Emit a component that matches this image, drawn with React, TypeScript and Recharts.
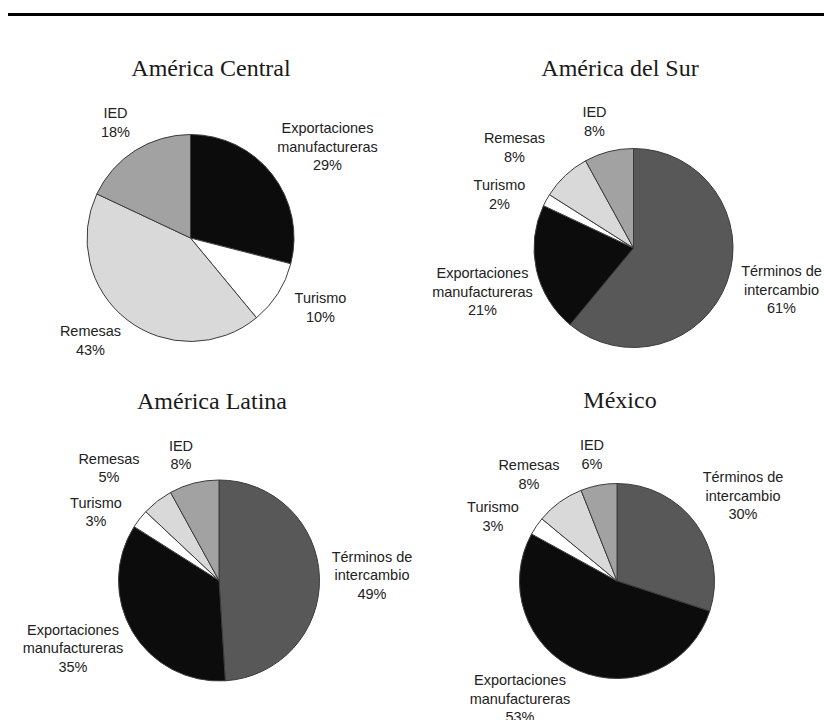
import { Cell, Pie, PieChart } from "recharts"

// categories in clockwise order starting at 12 o'clock
const centralCats = ["Exportaciones\nmanufactureras", "Turismo", "Remesas", "IED"]
const centralValues = [29, 10, 43, 18]

const restCats = ["Términos de\nintercambio", "Exportaciones\nmanufactureras", "Turismo", "Remesas", "IED"]
const surValues = [61, 21, 2, 8, 8]
const latinaValues = [49, 35, 3, 5, 8]
const mexicoValues = [30, 53, 3, 8, 6]

const titles = ["América Central", "América del Sur", "América Latina", "México"]

const COLORS: Record<string, string> = {
  "Términos de\nintercambio": "#585858",
  "Exportaciones\nmanufactureras": "#0c0c0c",
  Turismo: "#ffffff",
  Remesas: "#d9d9d9",
  IED: "#a2a2a2",
}

// label block offsets (first line centre) relative to the pie centre
const LABEL_OFFSETS = [
  [[137, -106], [130, 64], [-100, 97], [-75, -121]],
  [[148, 27], [-151, 29], [-134, -59], [-119, -106], [-39, -132]],
  [[153, -20], [-146, 53], [-123, -74], [-110, -118], [-38, -131]],
  [[126, -100], [-97, 103], [-124, -70], [-88, -112], [-25, -132]],
]

const PIES = [
  { cx: 185.5, cy: 233, r: 103.5, tx: 211, ty: 68 },
  { cx: 628.5, cy: 243, r: 99.5, tx: 620, ty: 68 },
  { cx: 214, cy: 575.5, r: 100.5, tx: 212, ty: 401 },
  { cx: 612, cy: 576, r: 97.5, tx: 620, ty: 400 },
]

const toRows = (cats: string[], values: number[]) =>
  cats.map((name, i) => ({ name, value: values[i] }))

const datasets = [
  toRows(centralCats, centralValues),
  toRows(restCats, surValues),
  toRows(restCats, latinaValues),
  toRows(restCats, mexicoValues),
]

const makeLabel = (chart: number) => (props: any) => {
  const { cx, cy, index, name, value } = props
  const [dx, dy] = LABEL_OFFSETS[chart][index]
  const lines = [...String(name).split("\n"), `${value}%`]
  const x = cx + dx
  const y = cy + dy + 1
  return (
    <text
      key={`lbl-${chart}-${index}`}
      x={x}
      y={y}
      textAnchor="middle"
      fontFamily="'Liberation Sans', Arial, sans-serif"
      fontSize={14.5}
      fill="#222"
    >
      {lines.map((l, i) => (
        <tspan key={i} x={x} dy={i === 0 ? 0 : 18.5}>
          {l}
        </tspan>
      ))}
    </text>
  )
}

export default function App() {
  return (
    <div style={{ position: "absolute", left: 0, top: 0, width: 824, height: 720, background: "#fff", overflow: "hidden" }}>
      <div style={{ position: "absolute", left: 8, top: 13, width: 816, height: 3, background: "#000" }} />
      {titles.map((t, i) => (
        <div
          key={t}
          style={{
            position: "absolute",
            left: PIES[i].tx - 150,
            top: PIES[i].ty - 15,
            width: 300,
            textAlign: "center",
            fontFamily: "'Liberation Serif', 'Times New Roman', serif",
            fontSize: 24,
            lineHeight: "30px",
            color: "#1a1a1a",
          }}
        >
          {t}
        </div>
      ))}
      <div style={{ position: "absolute", left: 0, top: 0 }}>
        <PieChart width={824} height={720}>
          {datasets.map((rows, i) => (
            <Pie
              key={titles[i]}
              data={rows}
              dataKey="value"
              nameKey="name"
              cx={PIES[i].cx}
              cy={PIES[i].cy}
              outerRadius={PIES[i].r}
              startAngle={90}
              endAngle={-270}
              stroke="#3c3c3c"
              strokeWidth={1}
              labelLine={false}
              label={makeLabel(i)}
              isAnimationActive={false}
            >
              {rows.map((entry, idx) => (
                <Cell key={`cell-${idx}`} fill={COLORS[entry.name]} />
              ))}
            </Pie>
          ))}
        </PieChart>
      </div>
    </div>
  )
}
